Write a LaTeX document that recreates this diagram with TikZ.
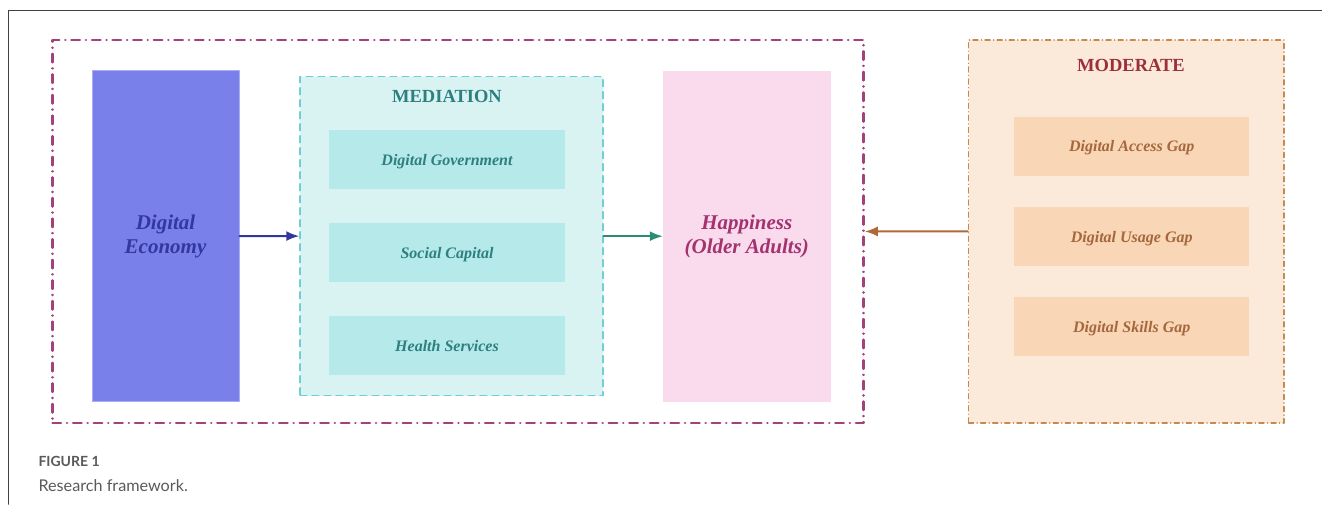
\documentclass[tikz,border=0pt]{standalone}
\usepackage{fontspec}
\setmainfont{Liberation Serif}
\newfontfamily\capfont{Lato}
\usetikzlibrary{arrows.meta,positioning}

\definecolor{econfill}{HTML}{7A80EA}
\definecolor{econline}{HTML}{A9ADF4}
\definecolor{econtext}{HTML}{3238A0}
\definecolor{medfill}{HTML}{D9F3F3}
\definecolor{meditem}{HTML}{B5E9EA}
\definecolor{medline}{HTML}{70CFD2}
\definecolor{medtext}{HTML}{2E8080}
\definecolor{hapfill}{HTML}{F9DBED}
\definecolor{haptext}{HTML}{A3336F}
\definecolor{modfill}{HTML}{FBE9DA}
\definecolor{moditem}{HTML}{F8D6B6}
\definecolor{modline}{HTML}{C68A50}
\definecolor{modtitle}{HTML}{9C2F38}
\definecolor{modtext}{HTML}{A5673D}
\definecolor{frameline}{HTML}{A2417A}
\definecolor{captext}{HTML}{5A5A5A}

\begin{document}
\begin{tikzpicture}[x=1pt,y=-1pt,>={Latex[length=13pt,width=10pt]},line cap=round,line join=round,
 box/.style={rectangle,inner sep=0pt,align=center},
 item/.style={box,minimum width=236pt,minimum height=59pt,text depth=0pt,font=\fontsize{16}{18}\selectfont\bfseries\itshape},
 title/.style={font=\fontsize{18.5}{20}\selectfont\bfseries}]
\useasboundingbox (0,0) rectangle (1322,504);
% page frame
\draw[line width=1.6pt,color=black!75] (8.5,504) -- (8.5,10.5) -- (1322,10.5);

% main model
\node[box,minimum width=811pt,minimum height=383pt,draw=frameline,line width=2.5pt,
 dash pattern=on 8.5pt off 6pt on 0.1pt off 6pt] (model) at (458,231.5) {};
\node[box,minimum width=147pt,minimum height=331pt,fill=econfill,draw=econline,line width=0.8pt,
 text=econtext,font=\fontsize{21}{24}\selectfont\bfseries\itshape] (econ) at (165.5,236) {Digital\\Economy};
\node[box,minimum width=303pt,minimum height=319pt,fill=medfill,draw=medline,line width=1.3pt,
 dash pattern=on 7pt off 5pt] (med) at (451.4,236.2) {};
\node[title,text=medtext] (medt) at (447,96.7) {MEDIATION};
\node[item,fill=meditem,text=medtext] (gov) at (447,159.5) {Digital Government};
\node[item,fill=meditem,text=medtext,below=33.7pt of gov] (soc) {Social Capital};
\node[item,fill=meditem,text=medtext,below=33.7pt of soc] (hea) {Health Services};
\node[box,minimum width=167.5pt,minimum height=331pt,fill=hapfill,text=haptext,
 font=\fontsize{21}{24}\selectfont\bfseries\itshape] (hap) at (746.8,236.2) {Happiness\\(Older Adults)};

% moderators
\node[box,minimum width=315.5pt,minimum height=382.7pt,fill=modfill,draw=modline,line width=1.5pt,
 dash pattern=on 5pt off 3.5pt on 0.1pt off 3.5pt] (mod) at (1126.3,231.4) {};
\node[title,text=modtitle] (modt) at (1131,65) {MODERATE};
\node[item,minimum width=234.6pt,fill=moditem,text=modtext] (acc) at (1131.7,146.2) {Digital Access Gap};
\node[item,minimum width=234.6pt,fill=moditem,text=modtext,below=31pt of acc] (use) {Digital Usage Gap};
\node[item,minimum width=234.6pt,fill=moditem,text=modtext,below=30.5pt of use] (ski) {Digital Skills Gap};

\draw[->,line width=1.9pt,color=econtext] (econ) -- (med);
\draw[->,line width=1.9pt,color=medtext!90!green] (med) -- (hap);
\draw[->,line width=1.9pt,color=modtext!90!orange] (mod) -- (model);

% caption
\node[anchor=base west,inner sep=0pt,text=captext,font=\capfont\bfseries\fontsize{14}{15}\selectfont] (fig) at (38.3,466.7) {FIGURE 1};
\node[anchor=base west,inner sep=0pt,text=captext,font=\capfont\fontsize{16.2}{19}\selectfont] (cap) at (38.3,491) {Research framework.};
\end{tikzpicture}
\end{document}
